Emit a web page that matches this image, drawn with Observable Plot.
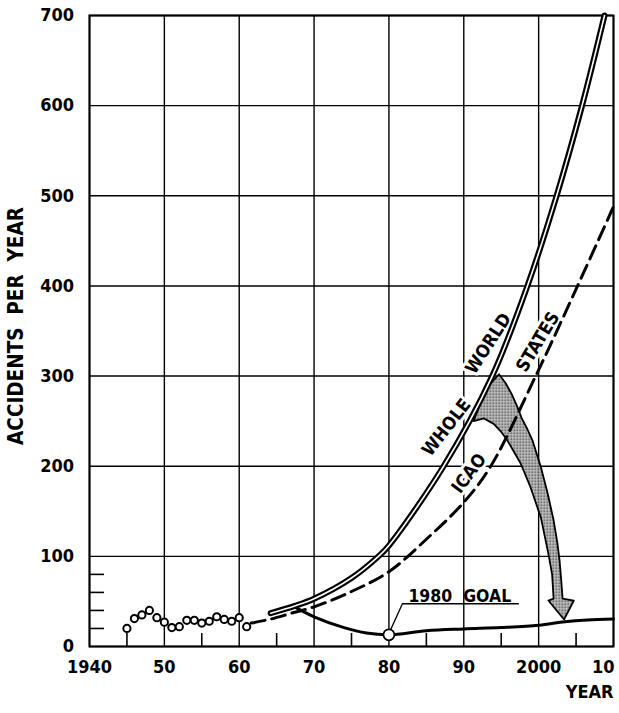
<!DOCTYPE html>
<html>
<head>
<meta charset="utf-8">
<script src="https://cdn.jsdelivr.net/npm/d3@7"></script>
<script src="https://cdn.jsdelivr.net/npm/@observablehq/plot@0.6"></script>
<style>
  html, body { margin: 0; padding: 0; background: white; }
  #chart { width: 619px; height: 713px; }
</style>
</head>
<body>
<div id="chart"></div>
<script>
// ---- Data ----
const histYears  = [1945,1946,1947,1948,1949,1950,1951,1952,1953,1954,1955,1956,1957,1958,1959,1960,1961];
const histValues = [20,31,35,40,32,27,21,22,29,29,26,28,33,30,28,32,22];

const worldYears  = [1964.2,1967.4,1970,1975,1978.6,1980,1987.3,1993.8,1998.5,2002.4,2005.8,2008.8];
const worldValues = [37,45,53,76,100,112,200,300,400,500,600,700];

const icaoYears  = [1961.6,1964,1967,1970,1975,1980,1985,1990,1993.6,1999.6,2005.2,2010];
const icaoValues = [26,30,37,44,61,83,119,160,200,300,400,488];

const goalYears  = [1967.4,1970,1974,1977,1980,1985,1990,1995,2000,2003.5,2006.5,2010];
const goalValues = [44,33,21,15,13,17.5,19.5,21,23.5,27.5,29.5,30.5];

const goalPointYear = [1980];
const goalPointValue = [13];

// shaded arrow outline (year, value), clockwise
const bandYears  = [1994.7,1995.6,1996.4,1997.1,1997.7,1998.5,1999.2,2000.3,2001.2,2002.0,2002.5,2002.8,2003.0,2003.2,
                    2004.7,2003.4,2001.3,
                    2002.0,2001.8,2001.3,2000.8,2000.3,1999.6,1998.9,1997.6,1996.7,1995.8,1994.9,1994.0,1992.7,1991.3,1993.0];
const bandValues = [302,292,280,267,254,241,228,199,170,140,115,95,75,53,
                    51,30,51,
                    53,80,103,123,143,160,177,203,216,229,239,247,253,250,286];

// tick labels
const xTickYears  = [1940,1950,1960,1970,1980,1990,2000,2010];
const xTickLabels = ["1940","50","60","70","80","90","2000","10"];
const yTickValues = [0,100,200,300,400,500,600,700];
const xMinor = [1945,1955,1965,1975,1985,1995,2005];
const yMinor = [20,40,60,80];

// annotation text
const curveLabels = ["WHOLE","WORLD","ICAO","STATES"];
const curveLabelYears  = [1987.7,1993.3,1990.7,1999.9];
const curveLabelValues = [243,336,192,338];
const curveLabelAngles = [-52,-57,-53,-59];

const goalLabel = ["1980  GOAL"];
const goalLabelYear = [1982.6];
const goalLabelValue = [56];
const leaderYears  = [1980.25,1981.8,1997.3];
const leaderValues = [19,47.4,47.4];

// ---- build tables ----
const zip = (xs, ys) => xs.map((x, i) => ({x, y: ys[i]}));
const hist = zip(histYears, histValues);
const world = zip(worldYears, worldValues);
const icao = zip(icaoYears, icaoValues);
const goal = zip(goalYears, goalValues);
const band = zip(bandYears, bandValues);
const goalPt = zip(goalPointYear, goalPointValue);
const leader = zip(leaderYears, leaderValues);
const lbls = curveLabels.map((t, i) => ({t, x: curveLabelYears[i], y: curveLabelValues[i], a: curveLabelAngles[i]}));
const xlab = xTickYears.map((x, i) => ({x, t: xTickLabels[i]}));

const FONT = "'DejaVu Sans Condensed', 'DejaVu Sans', sans-serif";

const svg = Plot.plot({
  width: 619,
  height: 713,
  marginLeft: 89,
  marginRight: 6,
  marginTop: 15,
  marginBottom: 67,
  x: {domain: [1940, 2010], axis: null},
  y: {domain: [0, 700], axis: null},
  style: {fontFamily: FONT, fontWeight: "bold", fontSize: "18px", background: "white", color: "black"},
  marks: [
    // grid
    Plot.ruleX(xTickYears, {stroke: "black", strokeWidth: 1.4}),
    Plot.ruleY(yTickValues, {stroke: "black", strokeWidth: 1.4}),
    Plot.frame({stroke: "black", strokeWidth: 2}),
    // minor ticks
    Plot.ruleX(xMinor, {x: d => d, y1: 0, y2: 0, insetTop: -13, stroke: "black", strokeWidth: 1.6}),
    Plot.ruleY(yMinor, {y: d => d, x1: 1940, x2: 1940, insetRight: -15, stroke: "black", strokeWidth: 1.6}),
    // shaded arrow
    Plot.line(band, {x: "x", y: "y", curve: "linear-closed", fill: "url(#stipple)", fillOpacity: 0.9, stroke: "black", strokeWidth: 1.8, strokeLinejoin: "round"}),
    // curve labels with white halo
    Plot.text(lbls, {x: "x", y: "y", text: "t", rotate: "a", fontSize: 18, fill: "black", stroke: "white", strokeWidth: 6}),
    // ICAO states dashed
    Plot.line(icao, {x: "x", y: "y", curve: "catmull-rom", stroke: "black", strokeWidth: 3, strokeDasharray: "14,7"}),
    // goal curve
    Plot.line(goal, {x: "x", y: "y", curve: "catmull-rom", stroke: "black", strokeWidth: 3}),
    // whole world double line
    Plot.line(world, {x: "x", y: "y", curve: "catmull-rom", stroke: "black", strokeWidth: 6}),
    Plot.line(world, {x: "x", y: "y", curve: "catmull-rom", stroke: "white", strokeWidth: 1.6}),
    // historical data
    Plot.dot(hist, {x: "x", y: "y", r: 3.6, fill: "white", stroke: "black", strokeWidth: 2}),
    // goal marker + label
    Plot.line(leader, {x: "x", y: "y", stroke: "black", strokeWidth: 1.3}),
    Plot.dot(goalPt, {x: "x", y: "y", r: 5.5, fill: "white", stroke: "black", strokeWidth: 1.8}),
    Plot.text(goalLabel, {x: goalLabelYear, y: goalLabelValue, text: d => d, textAnchor: "start", fontSize: 17.5}),
    // axes labels
    Plot.text(yTickValues, {y: d => d, text: d => String(d), frameAnchor: "left", dx: -15.5, textAnchor: "end"}),
    Plot.text(xlab.slice(0, -1), {x: "x", text: "t", frameAnchor: "bottom", dy: 26}),
    Plot.text(xlab.slice(-1), {x: "x", text: "t", frameAnchor: "bottom", dy: 26, textAnchor: "end", dx: 1}),
    Plot.text(["YEAR"], {text: d => d, frameAnchor: "bottom-right", dy: 51, textAnchor: "end"}),
    Plot.text(["ACCIDENTS  PER  YEAR"], {text: d => d, frameAnchor: "left", textAnchor: "middle", dx: -73, dy: -5, rotate: -90, fontSize: 20.5, letterSpacing: "0.5px"})
  ]
});

// stipple pattern for the shaded arrow
const ns = "http://www.w3.org/2000/svg";
const defs = document.createElementNS(ns, "defs");
const pat = document.createElementNS(ns, "pattern");
pat.setAttribute("id", "stipple");
pat.setAttribute("patternUnits", "userSpaceOnUse");
pat.setAttribute("width", "3");
pat.setAttribute("height", "3");
const bg = document.createElementNS(ns, "rect");
bg.setAttribute("width", "3"); bg.setAttribute("height", "3"); bg.setAttribute("fill", "#bdbdbd");
const dot = document.createElementNS(ns, "rect");
dot.setAttribute("width", "1.5"); dot.setAttribute("height", "1.5"); dot.setAttribute("fill", "#222");
pat.appendChild(bg); pat.appendChild(dot);
defs.appendChild(pat);
svg.insertBefore(defs, svg.firstChild);

document.getElementById("chart").appendChild(svg);
</script>
</body>
</html>
